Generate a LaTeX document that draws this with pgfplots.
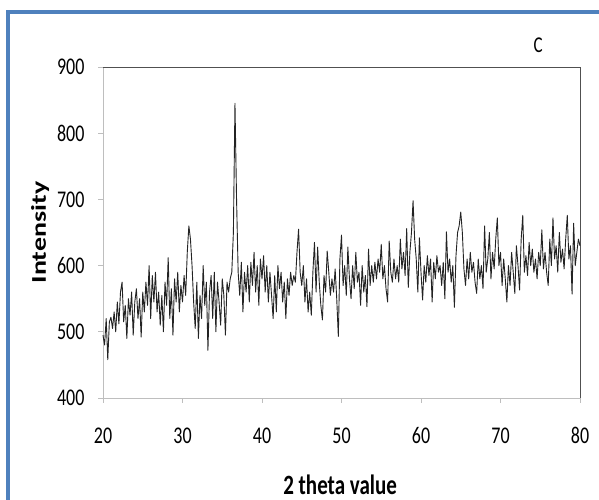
\documentclass[border=0pt]{standalone}
\usepackage{fontspec}
\setmainfont{Carlito}
\usepackage{pgfplots}
\usepackage{pgfplotstable}
\pgfplotsset{compat=1.18}
\definecolor{frameblue}{RGB}{79,129,189}
\definecolor{axgray}{RGB}{190,190,190}
\definecolor{boxgray}{RGB}{80,80,80}
\pgfplotstableread[row sep=\\]{
x y\\
20.0 495\\ 20.2 480\\ 20.4 520\\ 20.6 458\\ 20.8 515\\ 21.0 522\\ 21.2 505\\ 21.4 530\\ 21.6 500\\ 21.8 545\\
22.0 512\\ 22.2 560\\ 22.4 575\\ 22.6 515\\ 22.8 540\\ 23.0 490\\ 23.2 550\\ 23.4 525\\ 23.6 560\\ 23.8 495\\
24.0 545\\ 24.2 565\\ 24.4 520\\ 24.6 550\\ 24.8 492\\ 25.0 560\\ 25.2 530\\ 25.4 575\\ 25.6 540\\ 25.8 600\\
26.0 520\\ 26.2 585\\ 26.4 545\\ 26.6 590\\ 26.8 530\\ 27.0 560\\ 27.2 510\\ 27.4 555\\ 27.6 500\\ 27.8 575\\
28.0 540\\ 28.2 612\\ 28.4 520\\ 28.6 565\\ 28.8 495\\ 29.0 580\\ 29.2 545\\ 29.4 590\\ 29.6 530\\ 29.8 570\\
30.0 545\\ 30.2 585\\ 30.4 555\\ 30.6 620\\ 30.8 660\\ 31.0 640\\ 31.2 600\\ 31.4 545\\ 31.6 505\\ 31.8 575\\
32.0 490\\ 32.2 555\\ 32.4 520\\ 32.6 600\\ 32.8 540\\ 33.0 575\\ 33.2 472\\ 33.4 560\\ 33.6 585\\ 33.8 520\\
34.0 590\\ 34.2 500\\ 34.4 575\\ 34.6 545\\ 34.8 510\\ 35.0 580\\ 35.2 555\\ 35.4 495\\ 35.6 575\\ 35.8 560\\
36.0 580\\ 36.2 590\\ 36.4 650\\ 36.6 845\\ 36.8 700\\ 37.0 590\\ 37.2 555\\ 37.4 605\\ 37.6 530\\ 37.8 590\\
38.0 560\\ 38.2 600\\ 38.4 545\\ 38.6 605\\ 38.8 570\\ 39.0 620\\ 39.2 560\\ 39.4 600\\ 39.6 540\\ 39.8 610\\
40.0 580\\ 40.2 615\\ 40.4 560\\ 40.6 600\\ 40.8 545\\ 41.0 590\\ 41.2 555\\ 41.4 520\\ 41.6 585\\ 41.8 530\\
42.0 600\\ 42.2 565\\ 42.4 590\\ 42.6 545\\ 42.8 575\\ 43.0 520\\ 43.2 580\\ 43.4 555\\ 43.6 590\\ 43.8 570\\
44.0 585\\ 44.2 575\\ 44.4 620\\ 44.6 655\\ 44.8 590\\ 45.0 570\\ 45.2 600\\ 45.4 545\\ 45.6 580\\ 45.8 530\\
46.0 560\\ 46.2 525\\ 46.4 590\\ 46.6 635\\ 46.8 560\\ 47.0 628\\ 47.2 575\\ 47.4 540\\ 47.6 518\\ 47.8 585\\
48.0 560\\ 48.2 622\\ 48.4 590\\ 48.6 555\\ 48.8 580\\ 49.0 560\\ 49.2 595\\ 49.4 550\\ 49.6 493\\ 49.8 610\\
50.0 646\\ 50.2 570\\ 50.4 600\\ 50.6 555\\ 50.8 628\\ 51.0 580\\ 51.2 550\\ 51.4 600\\ 51.6 565\\ 51.8 620\\
52.0 575\\ 52.2 590\\ 52.4 540\\ 52.6 600\\ 52.8 560\\ 53.0 585\\ 53.2 538\\ 53.4 625\\ 53.6 570\\ 53.8 600\\
54.0 575\\ 54.2 605\\ 54.4 580\\ 54.6 610\\ 54.8 590\\ 55.0 632\\ 55.2 580\\ 55.4 600\\ 55.6 565\\ 55.8 545\\
56.0 637\\ 56.2 590\\ 56.4 575\\ 56.6 610\\ 56.8 580\\ 57.0 600\\ 57.2 575\\ 57.4 640\\ 57.6 595\\ 57.8 620\\
58.0 585\\ 58.2 656\\ 58.4 567\\ 58.6 620\\ 58.8 650\\ 59.0 698\\ 59.2 640\\ 59.4 610\\ 59.6 560\\ 59.8 642\\
60.0 590\\ 60.2 548\\ 60.4 600\\ 60.6 575\\ 60.8 615\\ 61.0 585\\ 61.2 610\\ 61.4 545\\ 61.6 605\\ 61.8 580\\
62.0 615\\ 62.2 590\\ 62.4 600\\ 62.6 570\\ 62.8 605\\ 63.0 550\\ 63.2 651\\ 63.4 590\\ 63.6 610\\ 63.8 575\\
64.0 600\\ 64.2 537\\ 64.4 615\\ 64.6 650\\ 64.8 660\\ 65.0 681\\ 65.2 650\\ 65.4 595\\ 65.6 570\\ 65.8 610\\
66.0 580\\ 66.2 620\\ 66.4 590\\ 66.6 605\\ 66.8 575\\ 67.0 558\\ 67.2 610\\ 67.4 580\\ 67.6 600\\ 67.8 565\\
68.0 660\\ 68.2 590\\ 68.4 610\\ 68.6 650\\ 68.8 580\\ 69.0 620\\ 69.2 595\\ 69.4 640\\ 69.6 672\\ 69.8 600\\
70.0 620\\ 70.2 570\\ 70.4 610\\ 70.6 580\\ 70.8 545\\ 71.0 600\\ 71.2 570\\ 71.4 620\\ 71.6 590\\ 71.8 558\\
72.0 630\\ 72.2 600\\ 72.4 563\\ 72.6 640\\ 72.8 676\\ 73.0 590\\ 73.2 615\\ 73.4 585\\ 73.6 635\\ 73.8 600\\
74.0 625\\ 74.2 590\\ 74.4 610\\ 74.6 580\\ 74.8 620\\ 75.0 600\\ 75.2 654\\ 75.4 595\\ 75.6 620\\ 75.8 590\\
76.0 570\\ 76.2 640\\ 76.4 600\\ 76.6 672\\ 76.8 610\\ 77.0 630\\ 77.2 590\\ 77.4 650\\ 77.6 605\\ 77.8 625\\
78.0 595\\ 78.2 640\\ 78.4 676\\ 78.6 610\\ 78.8 630\\ 79.0 557\\ 79.2 664\\ 79.4 600\\ 79.6 620\\ 79.8 640\\
80.0 630\\
}\xrdc
\begin{document}
\begin{tikzpicture}
\useasboundingbox (0pt,0pt) rectangle (599pt,500pt);
\fill[white] (0pt,0pt) rectangle (599pt,500pt);
\draw[frameblue, line width=4.5pt] (8pt,-20pt) -- (8pt,488pt) -- (620pt,488pt);
\begin{axis}[
  at={(103pt,102pt)}, anchor=south west,
  scale only axis, width=477pt, height=331pt,
  xmin=20, xmax=80, ymin=400, ymax=900,
  xtick={20,30,...,80}, ytick={400,500,...,900},
  tick pos=left, tick align=outside,
  major tick length=5pt,
  tick style={axgray, line width=0.8pt},
  axis line style={draw=none},
  ticklabel style={font=\fontsize{18}{20}\selectfont},
  /pgf/number format/assume math mode=true,
  xticklabel={\scalebox{1}[1.33]{\pgfmathprintnumber{\tick}}},
  yticklabel={\scalebox{1}[1.33]{\pgfmathprintnumber{\tick}}},
  xticklabel style={yshift=-21pt},
  yticklabel style={xshift=-10pt},
  xlabel={\scalebox{1}[1.33]{\textbf{2 theta value}}},
  ylabel={\scalebox{1.33}[1]{\textbf{Intensity}}},
  label style={font=\fontsize{21}{23}\selectfont},
  xlabel style={at={(axis description cs:0.497,-0.262)}, anchor=center},
  ylabel style={at={(axis description cs:-0.132,0.5)}, anchor=center},
  clip=false,
]
\draw[axgray, line width=0.8pt] (rel axis cs:0,1) -- (rel axis cs:0,0) -- (rel axis cs:1,0);
\draw[boxgray, line width=1pt] (rel axis cs:0,1) -- (rel axis cs:1,1) -- (rel axis cs:1,0);
\addplot[color={rgb,255:red,35;green,35;blue,35}, line width=0.9pt, line join=round] table[x=x,y=y] {\xrdc};
\node[font=\fontsize{17}{19}\selectfont] at (axis description cs:0.912,1.066) {\scalebox{1}[1.33]{C}};
\end{axis}
\end{tikzpicture}
\end{document}
